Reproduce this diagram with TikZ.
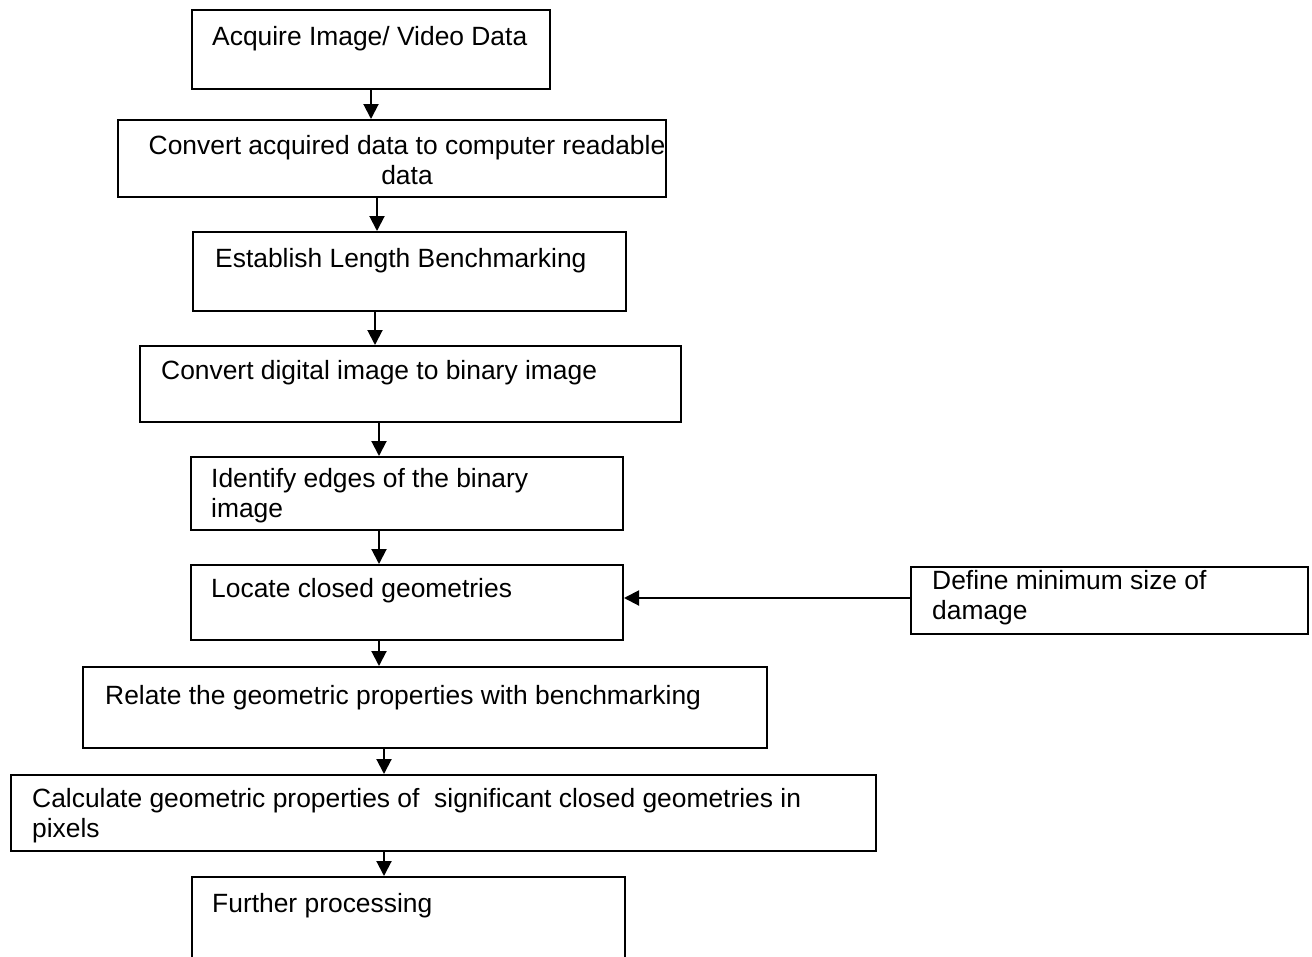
\documentclass[tikz,border=0pt]{standalone}
\usepackage{fontspec}
\setmainfont{Liberation Sans}
\usetikzlibrary{arrows.meta,fit}
\begin{document}
\begin{tikzpicture}[x=1pt,y=-1pt,
  box/.style={draw=black,line width=2pt,inner sep=0pt,rectangle},
  txt/.style={anchor=base west,inner sep=0pt,font=\fontsize{26.4}{30}\selectfont,align=left},
  arr/.style={line width=2pt,-{Triangle[width=15pt,length=15pt]}}]
\useasboundingbox (0,0) rectangle (1312,956);
\clip (0,0) rectangle (1312,956);
% boxes
\node[box,fit={(192,10) (550,89)}] (b1) {};
\node[box,fit={(118,120) (666,197)}] (b2) {};
\node[box,fit={(193,232) (626,311)}] (b3) {};
\node[box,fit={(140,346) (681,422)}] (b4) {};
\node[box,fit={(191,457) (623,530)}] (b5) {};
\node[box,fit={(191,565) (623,640)}] (b6) {};
\node[box,fit={(911,567) (1308,634)}] (b7) {};
\node[box,fit={(83,667) (767,748)}] (b8) {};
\node[box,fit={(11,775) (876,851)}] (b9) {};
\node[box,fit={(192,877) (625,970)}] (b10) {};
% texts (multi-line nodes: base = last line)
\node[txt] (t1) at (212,45) {Acquire Image/ Video Data};
\node[txt,anchor=base,align=center] (t2) at (407,184) {Convert acquired data to computer readable\\data};
\node[txt] (t3) at (215,267) {Establish Length Benchmarking};
\node[txt] (t4) at (161,379) {Convert digital image to binary image};
\node[txt] (t5) at (211,517) {Identify edges of the binary\\image};
\node[txt] (t6) at (211,597) {Locate closed geometries};
\node[txt] (t7) at (932,619) {Define minimum size of\\damage};
\node[txt] (t8) at (105,704) {Relate the geometric properties with benchmarking};
\node[txt] (t9) at (32,837) {Calculate geometric properties of~ significant closed geometries in\\pixels};
\node[txt] (t10) at (212,912) {Further processing};
% arrow x positions
\coordinate (x1) at (371,0);
\coordinate (x2) at (377,0);
\coordinate (x3) at (375,0);
\coordinate (x4) at (379,0);
\coordinate (x5) at (379,0);
\coordinate (x6) at (379,0);
\coordinate (x7) at (384,0);
\coordinate (x8) at (384,0);
\coordinate (y67) at (0,598);
\draw[arr] (b1.south -| x1) -- (b2.north -| x1);
\draw[arr] (b2.south -| x2) -- (b3.north -| x2);
\draw[arr] (b3.south -| x3) -- (b4.north -| x3);
\draw[arr] (b4.south -| x4) -- (b5.north -| x4);
\draw[arr] (b5.south -| x5) -- (b6.north -| x5);
\draw[arr] (b6.south -| x6) -- (b8.north -| x6);
\draw[arr] (b8.south -| x7) -- (b9.north -| x7);
\draw[arr] (b9.south -| x8) -- (b10.north -| x8);
\draw[arr] (b7.west |- y67) -- (b6.east |- y67);
\end{tikzpicture}
\end{document}
